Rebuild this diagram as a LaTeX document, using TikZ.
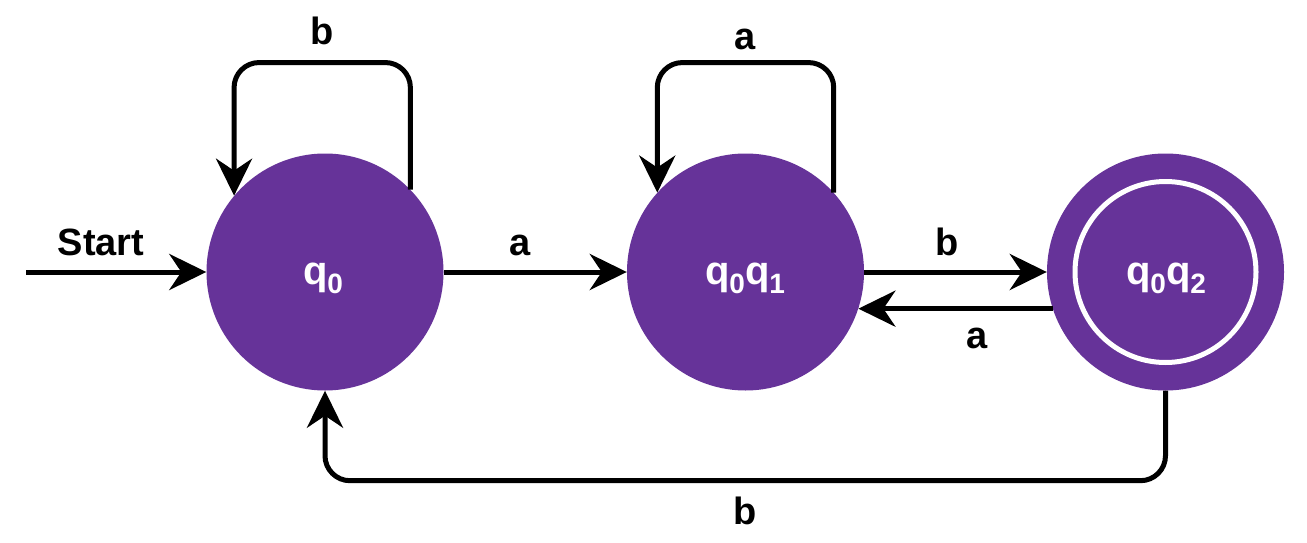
\documentclass[tikz,border=0pt]{standalone}
\usepackage{fontspec}
\setmainfont{Liberation Sans}
\usetikzlibrary{arrows.meta}
\definecolor{statepurple}{RGB}{102,51,153}
\newcommand\lblfont{\fontsize{38}{40}\selectfont\bfseries}
\newcommand\qfont{\fontsize{40}{42}\selectfont\bfseries}
\newcommand\mysub[1]{\lower9pt\hbox{\fontsize{28}{28}\selectfont\bfseries #1}}
\tikzset{
  statenode/.style={circle, fill=statepurple, draw=none, minimum size=237pt, inner sep=0pt},
  acceptring/.style={circle, draw=white, line width=5pt, minimum size=181pt, inner sep=0pt},
  statelbl/.style={anchor=base, text=white, font=\qfont, inner sep=0pt},
  edgelbl/.style={anchor=base, font=\lblfont, inner sep=0pt},
  arr/.style={line width=5pt, -{Stealth[length=37pt,width=36pt,inset=12pt]}},
  loopedge/.style={arr, rounded corners=25pt}
}
\begin{document}
\begin{tikzpicture}[x=1pt,y=-1pt]
\useasboundingbox (0,0) rectangle (1307,543);
% states
\node[statenode] (q0) at (325,272) {};
\node[statenode] (q1) at (745.5,272) {};
\node[statenode] (q2) at (1165.5,272) {};
\node[acceptring] (q2ring) at (q2.center) {};
\node[statelbl] (l0) at (323,284) {q\mysub{0}};
\node[statelbl] (l1) at (745,284) {q\mysub{0}q\mysub{1}};
\node[statelbl] (l2) at (1166,284) {q\mysub{0}q\mysub{2}};
% start
\coordinate (s) at (26,272);
\draw[arr] (s) -- (q0.west);
\node[edgelbl] (startlbl) at (101,255) {Start};
% q0 -> q1
\draw[arr] (q0.east) -- (q1.west);
\node[edgelbl] (e01) at (520,255) {a};
% q1 -> q2
\draw[arr] (q1.east) -- (q2.west);
\node[edgelbl] (e12) at (947,255) {b};
% q2 -> q1
\draw[arr] (q2.198.7) -- (q1.-18.7);
\node[edgelbl] (e21) at (977,348) {a};
% loops
\draw[loopedge] (q0.44) -- ++(0,-127) -| (q0.140);
\node[edgelbl] (e00) at (322,45) {b};
\draw[loopedge] (q1.42) -- ++(0,-130) -| (q1.138);
\node[edgelbl] (e11) at (745,50) {a};
% q2 -> q0
\draw[loopedge] (q2.south) -- ++(0,90) -| (q0.south);
\node[edgelbl] (e20) at (745,524) {b};
\end{tikzpicture}
\end{document}
